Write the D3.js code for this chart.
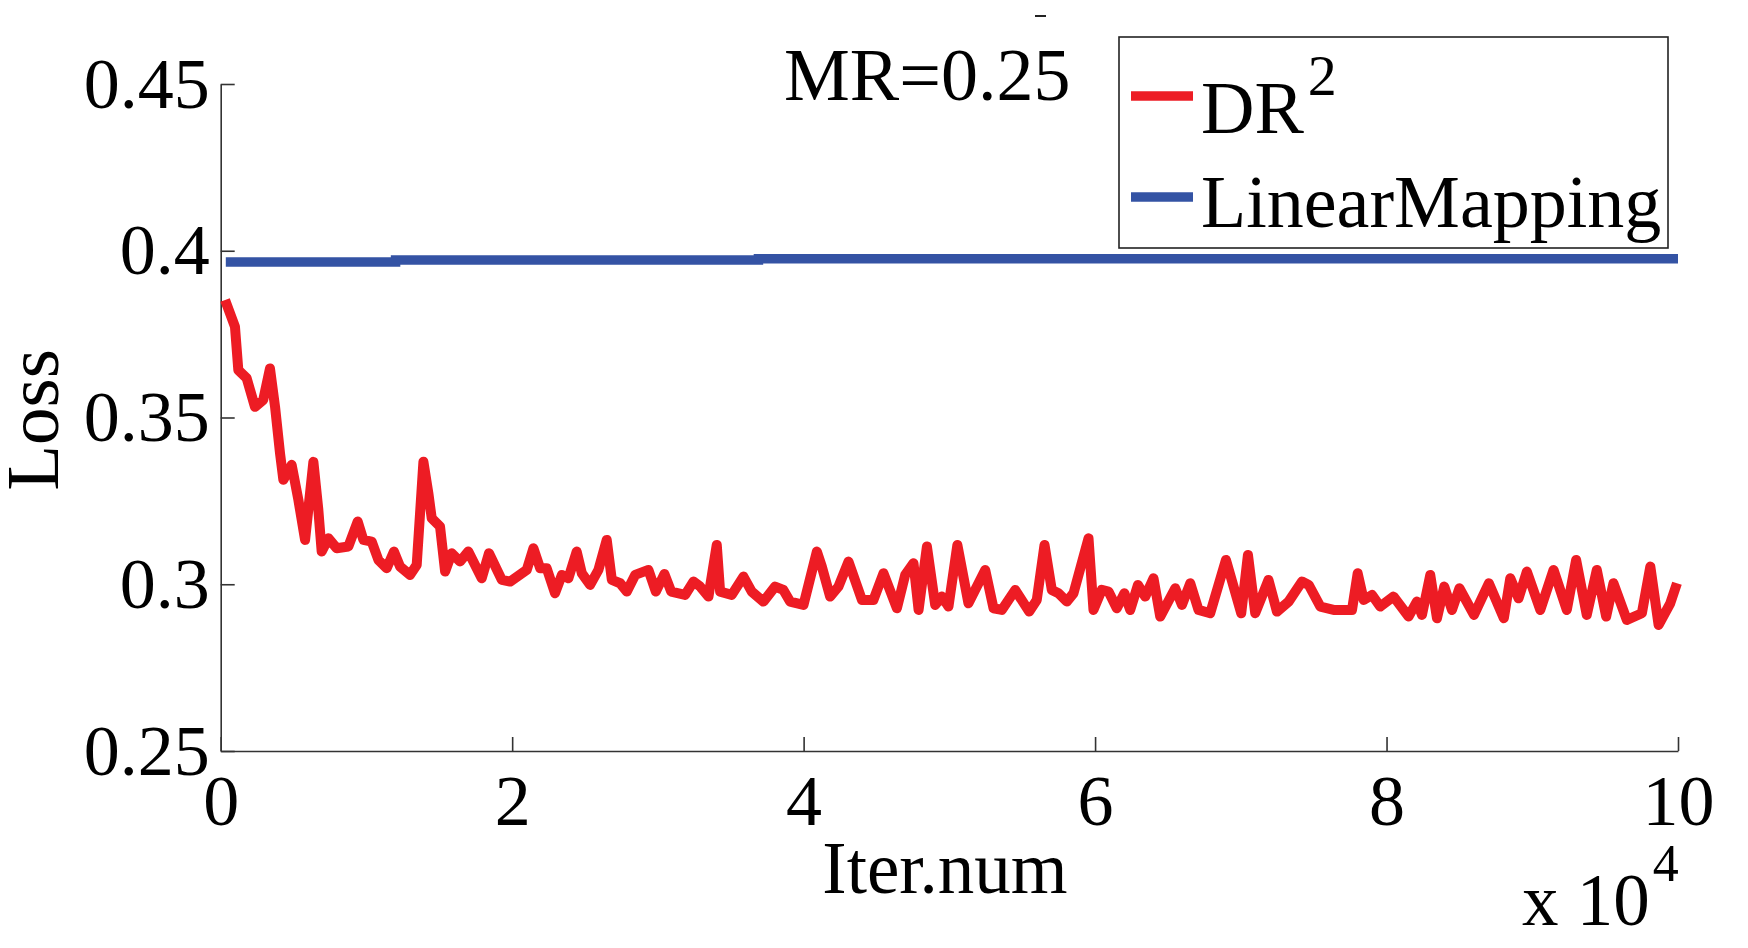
<!DOCTYPE html>
<html>
<head>
<meta charset="utf-8">
<script src="https://cdn.jsdelivr.net/npm/d3@7"></script>
<style>
  html, body { margin: 0; padding: 0; background: #fff; }
  svg text { font-family: "Liberation Serif", "Times New Roman", serif; fill: #000; }
</style>
</head>
<body>
<div id="chart"></div>
<script>
// iterations are in units of 10^4
const drIter = [0.03, 0.098, 0.121, 0.178, 0.235, 0.292, 0.338, 0.373, 0.407, 0.43, 0.487, 0.533, 0.579, 0.636, 0.67, 0.693, 0.739, 0.796, 0.876, 0.94, 0.979, 1.036, 1.082, 1.139, 1.189, 1.231, 1.299, 1.345, 1.391, 1.425, 1.448, 1.505, 1.54, 1.585, 1.642, 1.699, 1.791, 1.841, 1.929, 1.986, 2.1, 2.146, 2.192, 2.237, 2.294, 2.341, 2.386, 2.443, 2.478, 2.535, 2.592, 2.649, 2.684, 2.741, 2.787, 2.844, 2.935, 2.986, 3.045, 3.091, 3.187, 3.244, 3.29, 3.347, 3.404, 3.427, 3.507, 3.587, 3.644, 3.724, 3.804, 3.861, 3.907, 3.999, 4.091, 4.125, 4.182, 4.239, 4.308, 4.4, 4.479, 4.548, 4.64, 4.697, 4.754, 4.789, 4.846, 4.903, 4.949, 4.994, 5.055, 5.131, 5.246, 5.303, 5.36, 5.452, 5.548, 5.6, 5.653, 5.703, 5.749, 5.806, 5.852, 5.955, 5.989, 6.046, 6.092, 6.149, 6.201, 6.241, 6.294, 6.344, 6.401, 6.447, 6.55, 6.596, 6.653, 6.71, 6.79, 6.898, 7.003, 7.049, 7.099, 7.19, 7.248, 7.328, 7.42, 7.466, 7.546, 7.637, 7.763, 7.802, 7.843, 7.9, 7.957, 8.048, 8.151, 8.208, 8.243, 8.3, 8.346, 8.396, 8.449, 8.5, 8.6, 8.702, 8.805, 8.849, 8.906, 8.963, 9.055, 9.146, 9.237, 9.301, 9.374, 9.443, 9.507, 9.557, 9.649, 9.752, 9.81, 9.867, 9.947, 9.993];
const drLoss = [0.3852, 0.3772, 0.3642, 0.3618, 0.3532, 0.3553, 0.3647, 0.3532, 0.3393, 0.3313, 0.3358, 0.3253, 0.3133, 0.3367, 0.3223, 0.3098, 0.3138, 0.3108, 0.3113, 0.3188, 0.3133, 0.3128, 0.3073, 0.3048, 0.3098, 0.3053, 0.3028, 0.3058, 0.3367, 0.3273, 0.3198, 0.3173, 0.3038, 0.3093, 0.3068, 0.3098, 0.3018, 0.3093, 0.3013, 0.3008, 0.3043, 0.3108, 0.3048, 0.3048, 0.2973, 0.3028, 0.3018, 0.3098, 0.3033, 0.2998, 0.3043, 0.3133, 0.3013, 0.3003, 0.2978, 0.3028, 0.3043, 0.2978, 0.3031, 0.2978, 0.2968, 0.3008, 0.2993, 0.2963, 0.3118, 0.2978, 0.2968, 0.3023, 0.2978, 0.2948, 0.2993, 0.2983, 0.2948, 0.2938, 0.3098, 0.3053, 0.2963, 0.2993, 0.3068, 0.2953, 0.2953, 0.3033, 0.2928, 0.3028, 0.3063, 0.2923, 0.3113, 0.2938, 0.2963, 0.2933, 0.3118, 0.2943, 0.3043, 0.2928, 0.2923, 0.2983, 0.2918, 0.2953, 0.3118, 0.2983, 0.2973, 0.2948, 0.2973, 0.3138, 0.2923, 0.2983, 0.2978, 0.2928, 0.2973, 0.2923, 0.2998, 0.2963, 0.3018, 0.2903, 0.2988, 0.2938, 0.3003, 0.2923, 0.2913, 0.3073, 0.2913, 0.3088, 0.2913, 0.3013, 0.2918, 0.2948, 0.3008, 0.2998, 0.2933, 0.2923, 0.2923, 0.3033, 0.2953, 0.2968, 0.2933, 0.2963, 0.2903, 0.2948, 0.2908, 0.3028, 0.2898, 0.2993, 0.2923, 0.2988, 0.2908, 0.3003, 0.2898, 0.3018, 0.2958, 0.3038, 0.2923, 0.3043, 0.2923, 0.3073, 0.2908, 0.3043, 0.2903, 0.3003, 0.2893, 0.2913, 0.3053, 0.2878, 0.2943, 0.3003];

const linIter = [0.035, 1.2, 1.2, 3.69, 3.69, 10];
const linLoss = [0.3966, 0.3966, 0.3972, 0.3972, 0.3976, 0.3976];

const xTicks = [0, 2, 4, 6, 8, 10];
const xTickLabels = ["0", "2", "4", "6", "8", "10"];
const yTicks = [0.25, 0.3, 0.35, 0.4, 0.45];
const yTickLabels = ["0.25", "0.3", "0.35", "0.4", "0.45"];

const seriesNames = ["DR", "LinearMapping"];
const seriesColors = ["#ed1c24", "#3453a4"];

const width = 1748, height = 948;
const svg = d3.select("#chart").append("svg")
  .attr("width", width)
  .attr("height", height);

const x = d3.scaleLinear().domain([0, 10]).range([220.7, 1678]);
const y = d3.scaleLinear().domain([0.25, 0.45]).range([751, 84]);

// axes (MATLAB style, ticks pointing inward, no box)
const xAxis = svg.append("g")
  .attr("transform", `translate(0, ${y(0.25)})`)
  .call(d3.axisBottom(x)
    .tickValues(xTicks)
    .tickFormat((d, i) => xTickLabels[i])
    .tickSizeInner(-14)
    .tickSizeOuter(0)
    .tickPadding(23));

const yAxis = svg.append("g")
  .attr("transform", `translate(${x(0)}, 0)`)
  .call(d3.axisLeft(y)
    .tickValues(yTicks)
    .tickFormat((d, i) => yTickLabels[i])
    .tickSizeInner(-14)
    .tickSizeOuter(0)
    .tickPadding(11));

[xAxis, yAxis].forEach(g => {
  g.select(".domain").attr("stroke", "#333").attr("stroke-width", 1.6);
  g.selectAll(".tick line").attr("stroke", "#333").attr("stroke-width", 1.6);
  g.selectAll(".tick text")
    .style("font-family", "'Liberation Serif', 'Times New Roman', serif")
    .style("font-size", "72px")
    .attr("fill", "#000");
});

// lines
const line = d3.line()
  .x(d => x(d[0]))
  .y(d => y(d[1]));

svg.append("path")
  .datum(linIter.map((v, i) => [v, linLoss[i]]))
  .attr("fill", "none")
  .attr("stroke", seriesColors[1])
  .attr("stroke-width", 9.5)
  .attr("d", line);

svg.append("path")
  .datum(drIter.map((v, i) => [v, drLoss[i]]))
  .attr("fill", "none")
  .attr("stroke", seriesColors[0])
  .attr("stroke-width", 10)
  .attr("stroke-linejoin", "round")
  .attr("d", line);

// axis labels
svg.append("text")
  .attr("x", 945)
  .attr("y", 893)
  .attr("text-anchor", "middle")
  .style("font-size", "73px")
  .text("Iter.num");

const mult = svg.append("text")
  .attr("x", 1522)
  .attr("y", 925)
  .style("font-size", "73px");
mult.append("tspan").text("x 10");
mult.append("tspan")
  .attr("dx", 3)
  .attr("dy", -44)
  .style("font-size", "52px")
  .text("4");

svg.append("text")
  .attr("transform", "translate(58, 420) rotate(-90)")
  .attr("text-anchor", "middle")
  .style("font-size", "75px")
  .text("Loss");

svg.append("text")
  .attr("x", 784)
  .attr("y", 100)
  .style("font-size", "74px")
  .text("MR=0.25");

// small stray mark at the top
svg.append("line")
  .attr("x1", 1035).attr("x2", 1046)
  .attr("y1", 16).attr("y2", 16)
  .attr("stroke", "#222")
  .attr("stroke-width", 2);

// legend
const legend = svg.append("g");
legend.append("rect")
  .attr("x", 1119).attr("y", 37)
  .attr("width", 549).attr("height", 211)
  .attr("fill", "#fff")
  .attr("stroke", "#222")
  .attr("stroke-width", 1.6);

const legendY = [96, 197];
const textY = [133, 227];
seriesNames.forEach((name, i) => {
  legend.append("line")
    .attr("x1", 1131).attr("x2", 1193)
    .attr("y1", legendY[i]).attr("y2", legendY[i])
    .attr("stroke", seriesColors[i])
    .attr("stroke-width", 9.5);
  const t = legend.append("text")
    .attr("x", 1201)
    .attr("y", textY[i])
    .style("font-size", "74px");
  t.append("tspan").text(name);
  if (i === 0) {
    t.append("tspan")
      .attr("dx", 4)
      .attr("dy", -38)
      .style("font-size", "58px")
      .text("2");
  }
});
</script>
</body>
</html>
